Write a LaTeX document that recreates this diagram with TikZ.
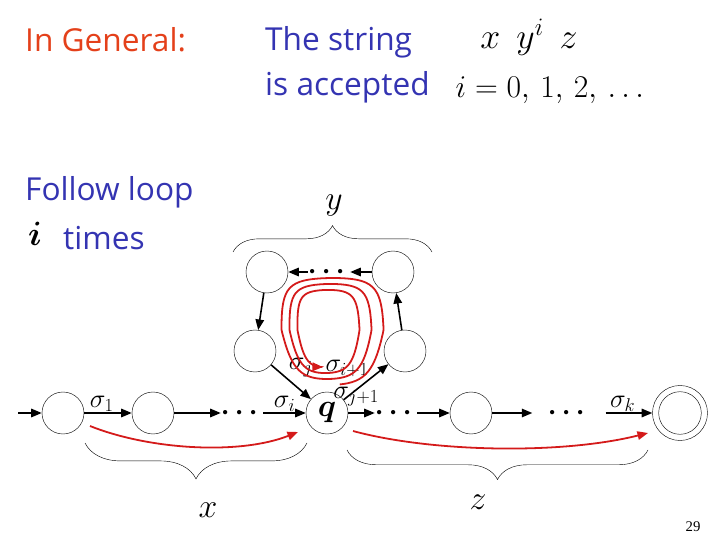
\RequirePackage{fix-cm}
\documentclass[tikz,border=0pt]{standalone}
\usepackage{amsmath, amssymb}
\usepackage{fontspec}
\usepackage{tikz}
\usetikzlibrary{arrows.meta, decorations.pathreplacing, calc}

\newfontfamily\slidefont{Open Sans}
\newfontfamily\numfont{Liberation Serif}
\definecolor{slidered}{RGB}{228,64,26}
\definecolor{slideblue}{RGB}{52,52,178}
\definecolor{loopred}{RGB}{212,26,26}

\begin{document}
\begin{tikzpicture}[x=0.03333cm, y=-0.03333cm,
    state/.style={circle, draw, thin, minimum size=1.4cm, inner sep=0pt},
    dotsnode/.style={inner sep=0pt, minimum height=0.2cm, font=\fontsize{26}{26}\selectfont},
    edge/.style={-{Triangle[length=10pt, width=8pt]}, line width=1.5pt},
    lab/.style={font=\fontsize{25}{25}\selectfont, inner sep=1pt},
    redpath/.style={loopred, line width=1.7pt, -{Triangle[length=10pt, width=8pt]}},
    curly/.style={decorate, thin},
    bracelab/.style={font=\fontsize{32}{32}\selectfont},
    slide/.style={font=\slidefont\fontsize{30}{30}\selectfont, inner sep=0pt}]

\useasboundingbox (0,0) rectangle (720,540);

% ── Heading ───────────────────────────────────────────────────────
\node[slide, text=slidered, anchor=west] (gen) at (25,40) {In General:};
\node[slide, text=slideblue, anchor=west] (str) at (265,42) {The string};
\node[slide, text=slideblue, anchor=west] (acc) at (265,87) {is accepted};
\node[font=\fontsize{34}{34}\selectfont] (xyz) at (529,37) {$x\;\,y^{i}\;\,z$};
\node[font=\fontsize{30}{30}\selectfont, anchor=west] (irange) at (452,90) {$i = 0,\,1,\,2,\,\ldots$};

\node[slide, text=slideblue, anchor=west] (follow) at (25,192) {Follow loop};
\node[font=\fontsize{32}{32}\selectfont] (itimes) at (35,234) {$\boldsymbol{i}$};
\node[slide, text=slideblue, anchor=west] (times) at (63,238) {times};

% ── Main row of states ────────────────────────────────────────────
\foreach \name/\xpos in {s0/63, s1/153, s3/471}
    \node[state] (\name) at (\xpos,413) {};
\node[state, font=\fontsize{30}{30}\selectfont] (q) at (327,413) {$\boldsymbol{q}$};
\node[state, minimum size=1.833cm] (fin) at (680,413) {};
\draw[thin] (fin.center) circle [radius=0.71cm];

\node[dotsnode, minimum width=1.37cm] (d1) at (242,413) {$\boldsymbol{\cdots}$};
\node[dotsnode, minimum width=1.2cm] (d2) at (396,413) {$\boldsymbol{\cdots}$};
\node[dotsnode, minimum width=2.43cm] (d3) at (569,413) {$\boldsymbol{\cdots}$};

\coordinate (start) at (18,413);
\draw[edge] (start) -- (s0);
\draw[edge] (s0) -- node[lab, above, xshift=-6pt] {$\sigma_1$} (s1);
\draw[edge] (s1) -- (d1);
\draw[edge] (d1) -- node[lab, above] {$\sigma_i$} (q);
\draw[edge] (q) -- node[lab, above, xshift=-5pt, yshift=5pt] {$\sigma_{j+1}$} (d2);
\draw[edge] (d2) -- (s3);
\draw[edge] (s3) -- (d3);
\draw[edge] (d3) -- node[lab, above, xshift=-6pt] {$\sigma_k$} (fin);

% ── Loop states ───────────────────────────────────────────────────
\node[state] (tl) at (267,272) {};
\node[state] (tr) at (393,272) {};
\node[state] (lm) at (255,351) {};
\node[state] (rm) at (405,351) {};
\node[dotsnode, minimum width=1.27cm] (d4) at (329,272) {$\boldsymbol{\cdots}$};

\draw[edge] (tr) -- (d4);
\draw[edge] (d4) -- (tl);
\draw[edge] (tl) -- (lm);
\draw[edge] (lm) -- node[lab, above right, pos=0.4] {$\sigma_j$} (q);
\draw[edge] (q) -- node[lab, above left, pos=0.6] {$\sigma_{i+1}$} (rm);
\draw[edge] (rm) -- (tr);

% ── Braces ────────────────────────────────────────────────────────
\draw[curly, decoration={brace, amplitude=25pt}] (233,252) -- (432,252);
\node[bracelab] (ylab) at (334,206) {$y$};
\draw[curly, decoration={brace, amplitude=34pt}] (307,443) -- (85,443);
\node[bracelab] (xlab) at (208,510) {$x$};
\draw[curly, decoration={brace, amplitude=28pt}] (648,450) -- (347,450);
\node[bracelab] (zlab) at (478,502) {$z$};

% ── Red paths ─────────────────────────────────────────────────────
\coordinate (xs) at (90,426);
\coordinate (xe) at (298,432);
\coordinate (zs) at (353,431);
\coordinate (ze) at (648,433);
\draw[redpath] (xs) .. controls (150,450) and (240,455) .. (xe);
\draw[redpath] (zs) .. controls (430,452) and (560,455) .. (ze);

% spiral round the loop
\draw[redpath] plot[smooth, domain=-80:985, samples=214, variable=\t]
    ({331 - 6*((\t+80)/1065) + (59.4 - 31.8*((\t+80)/1065))*(1 - 0.3*max(0,-sin(\t)))*(cos(\t) - cos(3*\t)/14)},
     {330 - (59 - 19*((\t+80)/1065))*(sin(\t) + sin(3*\t)/14)});

% ── Page number ───────────────────────────────────────────────────
\node[font=\numfont\fontsize{14}{14}\selectfont] (page) at (693,527) {29};

\end{tikzpicture}
\end{document}
